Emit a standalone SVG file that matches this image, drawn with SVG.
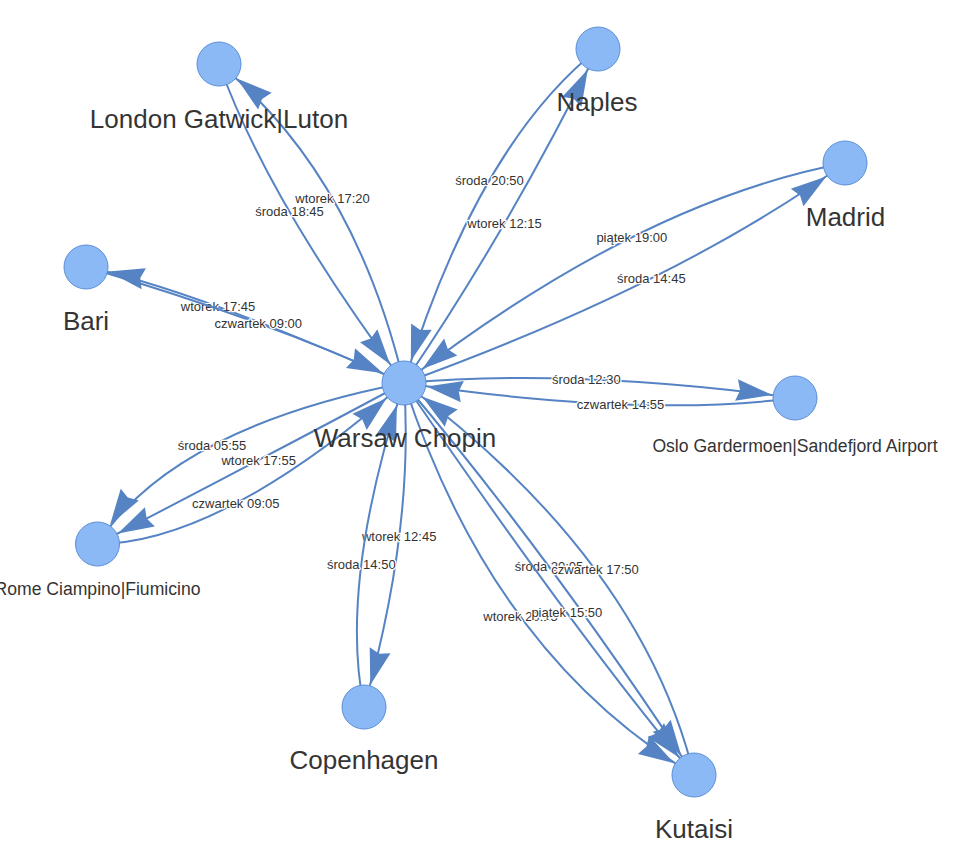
<svg xmlns="http://www.w3.org/2000/svg" xmlns:xlink="http://www.w3.org/1999/xlink" width="953" height="867" viewBox="0 0 953 867">
<style>
.e{fill:none;stroke:#5583c3;stroke-width:2}
.ah{fill:#5583c3}
.el{font-family:"Liberation Sans",Arial,sans-serif;font-size:13px;fill:#333;text-anchor:middle;stroke:#fff;stroke-width:2.5;paint-order:stroke;stroke-linejoin:round}
.n{fill:#8bb9f6;stroke:#5b8ed6;stroke-width:1}
.nl{font-family:"Liberation Sans",Arial,sans-serif;font-size:26px;fill:#343434;text-anchor:middle}
.ns{font-size:17.6px}
</style>
<defs>
<path id="ah" d="M0,0 L-36,10.8 L-32.4,0 L-36,-10.8 Z"/>
</defs>
<rect width="953" height="867" fill="#fff"/>
<g id="edges">
<g><path class="e" d="M404 383 Q353.5 173.1 219 64"/><use href="#ah" class="ah" transform="translate(236.9,78.5) rotate(-141)"/><text class="el" x="332.5" y="202.8">wtorek 17:20</text></g>
<g><path class="e" d="M219 64 Q267.5 199.9 404 383"/><use href="#ah" class="ah" transform="translate(390.2,364.6) rotate(53.3)"/><text class="el" x="289.5" y="216.2">środa 18:45</text></g>
<g><path class="e" d="M598 49 Q478 144 404 383"/><use href="#ah" class="ah" transform="translate(410.8,361) rotate(107.2)"/><text class="el" x="489.5" y="184.5">środa 20:50</text></g>
<g><path class="e" d="M404 383 Q508 230.6 598 49"/><use href="#ah" class="ah" transform="translate(587.8,69.6) rotate(-63.6)"/><text class="el" x="504.5" y="227.8">wtorek 12:15</text></g>
<g><path class="e" d="M845 163 Q639.1 201.6 404 383"/><use href="#ah" class="ah" transform="translate(422.2,369) rotate(142.4)"/><text class="el" x="631.8" y="241.8">piątek 19:00</text></g>
<g><path class="e" d="M404 383 Q678.1 283.6 845 163"/><use href="#ah" class="ah" transform="translate(826.3,176.5) rotate(-35.9)"/><text class="el" x="651.3" y="282.8">środa 14:45</text></g>
<g><path class="e" d="M404 383 Q191 288.4 86 267"/><use href="#ah" class="ah" transform="translate(108.5,271.6) rotate(-168.5)"/><text class="el" x="218" y="311.2">wtorek 17:45</text></g>
<g><path class="e" d="M86 267 Q271.6 321.6 404 383"/><use href="#ah" class="ah" transform="translate(383.1,373.3) rotate(24.9)"/><text class="el" x="258.3" y="327.8">czwartek 09:00</text></g>
<g><path class="e" d="M404 383 Q573.1 368.1 795 398"/><use href="#ah" class="ah" transform="translate(772.2,394.9) rotate(7.7)"/><text class="el" x="586.3" y="383.8">środa 12:30</text></g>
<g><path class="e" d="M795 398 Q641.5 418.1 404 383"/><use href="#ah" class="ah" transform="translate(426.7,386.4) rotate(-171.6)"/><text class="el" x="620.5" y="408.8">czwartek 14:55</text></g>
<g><path class="e" d="M404 383 Q173.25 427.9 97.5 544"/><use href="#ah" class="ah" transform="translate(110.1,524.7) rotate(123.1)"/><text class="el" x="212" y="450.2">środa 05:55</text></g>
<g><path class="e" d="M404 383 Q266.65 456.5 97.5 544"/><use href="#ah" class="ah" transform="translate(117.9,533.4) rotate(152.6)"/><text class="el" x="258.7" y="464.5">wtorek 17:55</text></g>
<g><path class="e" d="M97.5 544 Q220.85 543.1 404 383"/><use href="#ah" class="ah" transform="translate(386.7,398.1) rotate(-41.2)"/><text class="el" x="235.8" y="507.8">czwartek 09:05</text></g>
<g><path class="e" d="M404 383 Q414.4 528.4 364 707"/><use href="#ah" class="ah" transform="translate(370.3,684.9) rotate(105.8)"/><text class="el" x="399.2" y="541.2">wtorek 12:45</text></g>
<g><path class="e" d="M364 707 Q338.6 583.6 404 383"/><use href="#ah" class="ah" transform="translate(396.9,404.9) rotate(-71.9)"/><text class="el" x="361.3" y="568.8">środa 14:50</text></g>
<g><path class="e" d="M404 383 Q549 554.4 694 775"/><use href="#ah" class="ah" transform="translate(681.4,755.8) rotate(56.7)"/><text class="el" x="549" y="571.2">środa 20:05</text></g>
<g><path class="e" d="M694 775 Q641 559.6 404 383"/><use href="#ah" class="ah" transform="translate(422.4,396.7) rotate(-143.3)"/><text class="el" x="595" y="573.8">czwartek 17:50</text></g>
<g><path class="e" d="M404 383 Q492 654.4 694 775"/><use href="#ah" class="ah" transform="translate(674.3,763.2) rotate(30.9)"/><text class="el" x="520.5" y="621.2">wtorek 20:15</text></g>
<g><path class="e" d="M404 383 Q584.6 646.4 694 775"/><use href="#ah" class="ah" transform="translate(679.1,757.5) rotate(49.6)"/><text class="el" x="566.8" y="617.2">piątek 15:50</text></g>
</g>
<g id="node-warsaw"><circle class="n" cx="404" cy="383" r="22"/><text class="nl" x="405" y="447">Warsaw Chopin</text></g>
<g id="node-london"><circle class="n" cx="219" cy="64" r="22"/><text class="nl" x="219" y="128">London Gatwick|Luton</text></g>
<g id="node-naples"><circle class="n" cx="598" cy="49" r="22"/><text class="nl" x="597" y="111">Naples</text></g>
<g id="node-madrid"><circle class="n" cx="845" cy="163" r="22"/><text class="nl" x="845.5" y="226">Madrid</text></g>
<g id="node-bari"><circle class="n" cx="86" cy="267" r="22"/><text class="nl" x="86" y="330">Bari</text></g>
<g id="node-oslo"><circle class="n" cx="795" cy="398" r="22"/><text class="nl ns" x="795" y="452">Oslo Gardermoen|Sandefjord Airport</text></g>
<g id="node-rome"><circle class="n" cx="97.5" cy="544" r="22"/><text class="nl ns" x="97.5" y="595">Rome Ciampino|Fiumicino</text></g>
<g id="node-copenhagen"><circle class="n" cx="364" cy="707" r="22"/><text class="nl" x="364" y="769">Copenhagen</text></g>
<g id="node-kutaisi"><circle class="n" cx="694" cy="775" r="22"/><text class="nl" x="694" y="838">Kutaisi</text></g>
</svg>
